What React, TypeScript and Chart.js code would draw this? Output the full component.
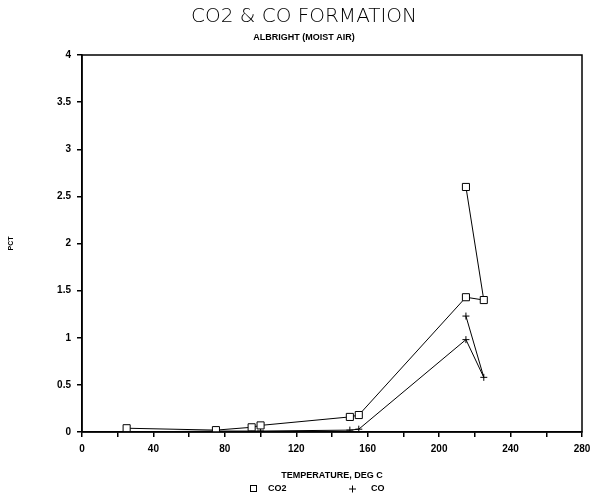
import React, { useEffect, useRef } from "react";
import { Chart, registerables } from "chart.js";

Chart.register(...registerables);

const co2Temp = [25, 75, 95, 100, 150, 155, 215, 225, 215];
const co2Pct = [0.04, 0.02, 0.05, 0.07, 0.16, 0.18, 1.43, 1.4, 2.6];
const coTemp = [25, 75, 95, 100, 150, 155, 215, 225, 215];
const coPct = [0.0, 0.01, 0.01, 0.01, 0.02, 0.03, 0.98, 0.58, 1.23];
const xTickLabels = [0, 40, 80, 120, 160, 200, 240, 280];
const legendLabels = ["CO2", "CO"];

const FONT = "'Liberation Sans', Arial, sans-serif";

const boxPlugin = {
  id: "boxPlugin",
  afterDraw(chart: any) {
    const { ctx, chartArea } = chart;
    ctx.save();
    ctx.strokeStyle = "#000";
    ctx.lineWidth = 1.5;
    ctx.strokeRect(chartArea.left, chartArea.top, chartArea.right - chartArea.left, chartArea.bottom - chartArea.top);
    // legend
    const y = 489;
    ctx.font = `bold 9px ${FONT}`;
    ctx.fillStyle = "#000";
    ctx.textBaseline = "middle";
    ctx.lineWidth = 1;
    ctx.strokeRect(250.5, y - 3.5, 6, 6);
    ctx.fillText(legendLabels[0], 268, y);
    ctx.beginPath();
    ctx.moveTo(349, y);
    ctx.lineTo(356, y);
    ctx.moveTo(352.5, y - 3.5);
    ctx.lineTo(352.5, y + 3.5);
    ctx.stroke();
    ctx.fillText(legendLabels[1], 371, y);
    ctx.restore();
  },
};

export default function App() {
  const ref = useRef<HTMLCanvasElement>(null);
  useEffect(() => {
    if (!ref.current) return;
    const chart = new Chart(ref.current, {
      type: "scatter",
      data: {
        datasets: [
          {
            label: legendLabels[0],
            data: co2Temp.map((t, i) => ({ x: t, y: co2Pct[i] })),
            showLine: true,
            borderColor: "#000",
            borderWidth: 1,
            pointStyle: "rect",
            pointRadius: 5,
            pointBorderWidth: 1,
            pointBorderColor: "#000",
            pointBackgroundColor: "#fff",
            backgroundColor: "#fff",
          },
          {
            label: legendLabels[1],
            data: coTemp.map((t, i) => ({ x: t, y: coPct[i] })),
            showLine: true,
            borderColor: "#000",
            borderWidth: 1,
            pointStyle: "cross",
            pointRadius: 3.5,
            pointBorderWidth: 1,
            pointBorderColor: "#000",
            backgroundColor: "#000",
          },
        ],
      },
      options: {
        responsive: false,
        animation: false,
        layout: { padding: { left: 16, right: 0, top: 0, bottom: 0 } },
        plugins: {
          title: {
            display: true,
            text: "CO2 & CO FORMATION",
            color: "#000",
            font: { family: "'DejaVu Sans', sans-serif", size: 20, weight: "300" },
            padding: { top: 5, bottom: 3.6 },
          },
          subtitle: {
            display: true,
            text: "ALBRIGHT (MOIST AIR)",
            color: "#000",
            font: { family: FONT, size: 9, weight: "bold" },
            padding: { top: 0, bottom: 11.6 },
          },
          legend: { display: false },
          tooltip: { enabled: false },
        },
        scales: {
          x: {
            type: "linear",
            min: 0,
            max: 280,
            afterBuildTicks: (s: any) => {
              s.ticks = [];
              for (let v = 0; v <= 280; v += 20) s.ticks.push({ value: v });
            },
            afterFit: (s: any) => {
              s.height = 66;
              s.paddingRight = 10;
              s.paddingLeft = 0;
            },
            ticks: {
              autoSkip: false,
              maxRotation: 0,
              color: "#000",
              padding: 6,
              font: { family: FONT, size: 10, weight: "bold" },
              callback: (v: any) => (xTickLabels.includes(Number(v)) ? String(v) : ""),
            },
            grid: { drawOnChartArea: false, drawTicks: true, tickLength: 5, color: "#000", lineWidth: 1.5 },
            border: { display: true, color: "#000", width: 1.5 },
            title: {
              display: true,
              text: "TEMPERATURE, DEG C",
              color: "#000",
              font: { family: FONT, size: 9, weight: "bold" },
              padding: { top: 0, bottom: 16.6 },
            },
          },
          y: {
            type: "linear",
            min: 0,
            max: 4,
            ticks: {
              stepSize: 0.5,
              color: "#000",
              padding: 6,
              font: { family: FONT, size: 10, weight: "bold" },
              callback: (v: any) => String(Number(v)),
            },
            afterFit: (s: any) => {
              s.width = 66;
            },
            grid: { drawOnChartArea: false, drawTicks: true, tickLength: 5, color: "#000", lineWidth: 1.5 },
            border: { display: true, color: "#000", width: 1.5 },
            title: {
              display: true,
              text: "PCT",
              color: "#000",
              font: { family: FONT, size: 7, weight: "bold" },
              padding: { top: -9, bottom: 0 },
            },
          },
        },
      },
      plugins: [boxPlugin],
    });
    return () => chart.destroy();
  }, []);
  return (
    <div style={{ position: "fixed", left: 0, top: 0, width: 592, height: 498, background: "#fff" }}>
      <canvas ref={ref} width={592} height={498} />
    </div>
  );
}
